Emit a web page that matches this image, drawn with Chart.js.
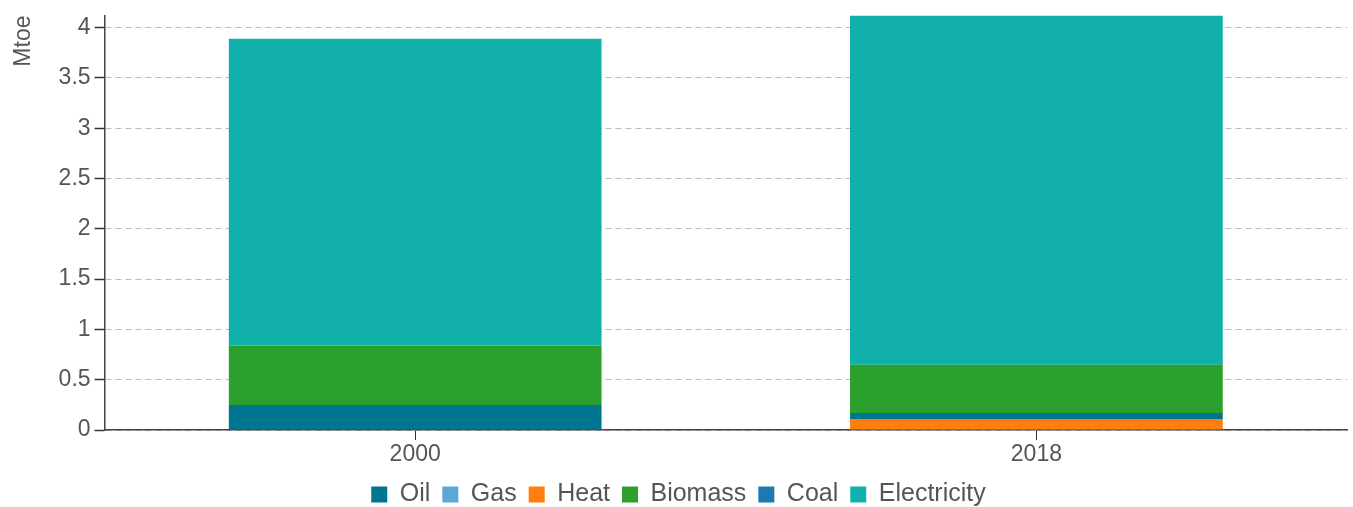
<!DOCTYPE html>
<html>
<head>
<meta charset="utf-8">
<script src="https://cdn.jsdelivr.net/npm/chart.js@4"></script>
<style>
  html, body { margin: 0; padding: 0; background: #fff; }
  #wrap { width: 1353px; height: 507px; }
</style>
</head>
<body>
<div id="wrap"><canvas id="chart"></canvas></div>
<script>
// categories
const years = ['2000', '2018'];

// series values (Mtoe)
const oil = [0.25, 0.06];
const gas = [0, 0];
const heat = [0, 0.11];
const biomass = [0.59, 0.48];
const coal = [0, 0];
const electricity = [3.05, 3.47];

// y tick labels
const yTicks = [0, 0.5, 1, 1.5, 2, 2.5, 3, 3.5, 4];

// legend order
const legendOrder = ['Oil', 'Gas', 'Heat', 'Biomass', 'Coal', 'Electricity'];

const ctx = document.getElementById('chart').getContext('2d');

// stacking order (bottom first)
const datasets = [
    { label: 'Heat', data: heat, backgroundColor: '#ff7f0e' },
    { label: 'Oil', data: oil, backgroundColor: '#00758f' },
    { label: 'Gas', data: gas, backgroundColor: '#5ba8d4' },
    { label: 'Biomass', data: biomass, backgroundColor: '#2ca02c' },
    { label: 'Coal', data: coal, backgroundColor: '#1f77b4' },
    { label: 'Electricity', data: electricity, backgroundColor: '#12b0ab' },
];
datasets.forEach(d => {
    d.barPercentage = 0.6;
    d.categoryPercentage = 1;
    d.borderWidth = 0;
});

const family = 'Liberation Sans, Arial, sans-serif';
const font = { family: family, size: 23 };
const tightFont = { family: family, size: 23, lineHeight: 1 };
const xFont = { family: family, size: 23, lineHeight: 0.52 };
const legendFont = { family: family, size: 25 };

const chart = new Chart(ctx, {
    type: 'bar',
    data: { labels: years, datasets: datasets },
    options: {
        responsive: true,
        maintainAspectRatio: false,
        animation: false,
        layout: { padding: { top: 15, right: 6, left: 10, bottom: 0 } },
        scales: {
            x: {
                stacked: true,
                grid: {
                    offset: false,
                    drawOnChartArea: false,
                    color: '#333',
                    tickLength: 10,
                },
                border: { color: '#444', width: 1.5 },
                ticks: { color: '#555', font: xFont, padding: 9 },
            },
            y: {
                stacked: true,
                min: 0,
                max: 4.12,
                afterBuildTicks: scale => {
                    scale.ticks = yTicks.map(v => ({ value: v }));
                },
                grid: {
                    color: '#bbb',
                    lineWidth: 1,
                    tickColor: '#333',
                    tickWidth: 1.5,
                    tickLength: 10,
                    tickBorderDash: [1, 0],
                },
                border: { color: '#444', width: 1.5, dash: [6, 4] },
                ticks: {
                    color: '#555',
                    font: tightFont,
                    padding: 4,
                    callback: v => String(v),
                },
                title: {
                    display: true,
                    text: 'Mtoe',
                    align: 'end',
                    color: '#555',
                    font: font,
                    padding: { top: 0, bottom: 17 },
                },
            },
        },
        plugins: {
            legend: {
                position: 'bottom',
                maxHeight: 37,
                labels: {
                    color: '#555',
                    font: legendFont,
                    boxWidth: 16,
                    boxHeight: 16,
                    padding: 12,
                    sort: (a, b) => legendOrder.indexOf(a.text) - legendOrder.indexOf(b.text),
                },
            },
            tooltip: { enabled: false },
        },
    },
});
</script>
</body>
</html>
